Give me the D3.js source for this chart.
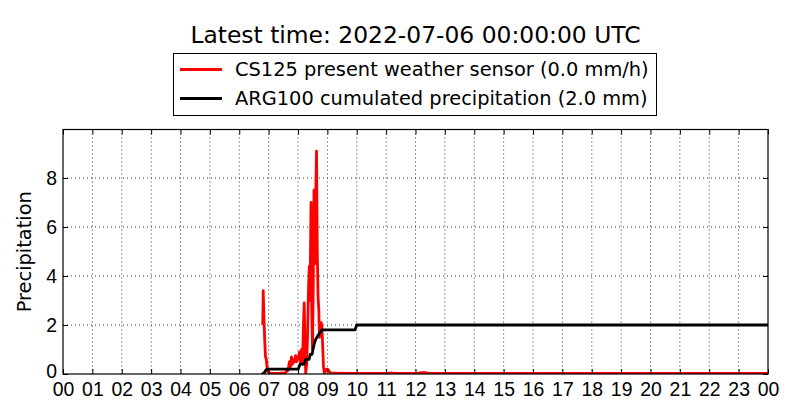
<!DOCTYPE html>
<html>
<head>
<meta charset="utf-8">
<script src="https://cdn.jsdelivr.net/npm/d3@7"></script>
<style>
  body { margin: 0; background: #fff; }
  svg { font-family: "DejaVu Sans", sans-serif; }
</style>
</head>
<body>
<script>
// minutes since midnight, values in mm/h
const redMinutes = [408, 409, 410.5, 412.2, 413.6, 415.3, 416.7, 418.7, 422.8, 433, 443, 453.5,
  459.6, 462.6, 464.7, 466.7, 468.8, 470.8, 472.9, 474.9, 476.9, 479, 481, 483.1, 485.1, 487.2,
  489.2, 491.2, 492.7, 494.3, 495.7, 497.8, 499.4, 501.5, 503.1, 504.5, 506.6, 508.2, 509.6,
  511.1, 512.7, 514.3, 516, 517.8, 519.4, 520.9, 522.5, 523.9, 525.6, 527.4, 529, 530.7, 532.1,
  533.7, 536.2, 538.2, 540.3, 542.3, 544.4, 546.4, 549.5, 600, 660, 672, 680, 720, 732, 740, 748,
  1000, 1440];
const redValues = [2.0, 3.4, 2.2, 1.3, 0.7, 0.6, 0.3, 0.08, 0.03, 0.02, 0.03, 0.05,
  0.15, 0.5, 0.3, 0.7, 0.4, 0.6, 0.5, 0.75, 0.5, 0.7, 0.6, 0.9, 0.5, 1.0,
  0.4, 2.0, 2.9, 1.0, 0.05, 0.4, 1.5, 3.5, 4.4, 3.0, 7.0, 2.5, 1.0,
  3.5, 7.5, 4.5, 7.0, 9.1, 5.0, 3.2, 2.6, 1.5, 1.8, 2.1, 1.9, 1.0, 0.3,
  0.05, 0.1, 0.2, 0.2, 0.15, 0.1, 0.05, 0.03, 0.02, 0.02, 0.04, 0.02, 0.02, 0.06, 0.06, 0.02,
  0.02, 0.02];

// cumulated precipitation, mm
const blackMinutes = [405, 409.1, 416.1, 480.6, 484.1, 492.9, 495.9, 502.5, 505.1, 508.6, 510.7,
  512.7, 515.8, 518.8, 521.9, 528.4, 596.4, 599.9, 1440];
const blackValues = [0, 0, 0.2, 0.2, 0.4, 0.4, 0.6, 0.6, 0.8, 0.8, 1.0,
  1.2, 1.4, 1.5, 1.6, 1.8, 1.8, 2.0, 2.0];

const hourTicks = d3.range(0, 25);
const hourLabels = hourTicks.map(h => String(h % 24).padStart(2, "0"));
const yTicks = [0, 2, 4, 6, 8];

const title = "Latest time: 2022-07-06 00:00:00 UTC";
const seriesNames = ["CS125 present weather sensor (0.0 mm/h)", "ARG100 cumulated precipitation (2.0 mm)"];
const seriesColors = ["#ff0000", "#000000"];

const width = 800, height = 420;
const margin = {top: 129.5, right: 32, bottom: 46, left: 63};
const w = width - margin.left - margin.right;
const h = height - margin.top - margin.bottom;
const fontSize = "19.4px";

const svg = d3.select("body").append("svg")
  .attr("width", width)
  .attr("height", height);

const x = d3.scaleLinear().domain([0, 24 * 60]).range([0, w]);
const y = d3.scaleLinear().domain([0, 9.98]).range([h, 0]);

const g = svg.append("g")
  .attr("transform", "translate(" + margin.left + "," + margin.top + ")");

// grid
g.append("g").selectAll("line")
  .data(hourTicks.slice(1, -1))
  .enter().append("line")
  .attr("x1", d => x(d * 60)).attr("x2", d => x(d * 60))
  .attr("y1", 0).attr("y2", h)
  .attr("stroke", "#000").attr("stroke-width", 0.8)
  .attr("stroke-dasharray", "1,3");
g.append("g").selectAll("line")
  .data(yTicks.slice(1))
  .enter().append("line")
  .attr("x1", 0).attr("x2", w)
  .attr("y1", d => y(d)).attr("y2", d => y(d))
  .attr("stroke", "#000").attr("stroke-width", 0.8)
  .attr("stroke-dasharray", "1,3");

svg.append("clipPath").attr("id", "clip")
  .append("rect").attr("width", w).attr("height", h);

const line = d3.line()
  .x(d => x(d[0]))
  .y(d => y(d[1]));

const plot = g.append("g").attr("clip-path", "url(#clip)");
plot.append("path")
  .datum(redMinutes.map((m, i) => [m, redValues[i]]))
  .attr("d", line)
  .attr("fill", "none")
  .attr("stroke", seriesColors[0])
  .attr("stroke-width", 2.8)
  .attr("stroke-linejoin", "round");
plot.append("path")
  .datum(blackMinutes.map((m, i) => [m, blackValues[i]]))
  .attr("d", line)
  .attr("fill", "none")
  .attr("stroke", seriesColors[1])
  .attr("stroke-width", 2.8)
  .attr("stroke-linejoin", "round");

// axes, ticks pointing inward
const xAxis = d3.axisBottom(x)
  .tickValues(hourTicks.map(d => d * 60))
  .tickFormat((d, i) => hourLabels[i])
  .tickSizeInner(-5).tickSizeOuter(0).tickPadding(8.5);
g.append("g").attr("transform", "translate(0," + h + ")").call(xAxis)
  .call(a => a.select(".domain").remove())
  .selectAll("text").style("font-size", fontSize).attr("fill", "#000");

g.append("g")
  .call(d3.axisTop(x).tickValues(hourTicks.map(d => d * 60)).tickFormat("").tickSizeInner(-5).tickSizeOuter(0))
  .call(a => a.select(".domain").remove());

const yAxis = d3.axisLeft(y)
  .tickValues(yTicks)
  .tickSizeInner(-5).tickSizeOuter(0).tickPadding(6);
g.append("g").call(yAxis)
  .call(a => a.select(".domain").remove())
  .selectAll("text").style("font-size", fontSize).attr("fill", "#000")
  .attr("dy", d => d === 0 ? "0.2em" : "0.32em");

g.append("g").attr("transform", "translate(" + w + ",0)")
  .call(d3.axisRight(y).tickValues(yTicks).tickFormat("").tickSizeInner(-5).tickSizeOuter(0))
  .call(a => a.select(".domain").remove());

g.selectAll(".tick line").attr("stroke", "#000");

g.append("rect")
  .attr("width", w).attr("height", h)
  .attr("fill", "none").attr("stroke", "#000").attr("stroke-width", 1.2);

// y label
svg.append("text")
  .attr("transform", "translate(31," + (margin.top + h / 2) + ") rotate(-90)")
  .attr("text-anchor", "middle")
  .style("font-size", fontSize)
  .text("Precipitation");

// title
svg.append("text")
  .attr("x", margin.left + w / 2)
  .attr("y", 43)
  .attr("text-anchor", "middle")
  .style("font-size", "23.4px")
  .text(title);

// legend
const legend = svg.append("g");
legend.append("rect")
  .attr("x", 173.5).attr("y", 53.5).attr("width", 483).attr("height", 62)
  .attr("fill", "#fff").attr("stroke", "#000").attr("stroke-width", 1);
seriesNames.forEach((name, i) => {
  const ly = 69.5 + i * 29;
  legend.append("line")
    .attr("x1", 180).attr("x2", 222).attr("y1", ly).attr("y2", ly)
    .attr("stroke", seriesColors[i]).attr("stroke-width", 2.8);
  legend.append("text")
    .attr("x", 235).attr("y", ly).attr("dy", "0.35em")
    .style("font-size", fontSize)
    .text(name);
});
</script>
</body>
</html>
